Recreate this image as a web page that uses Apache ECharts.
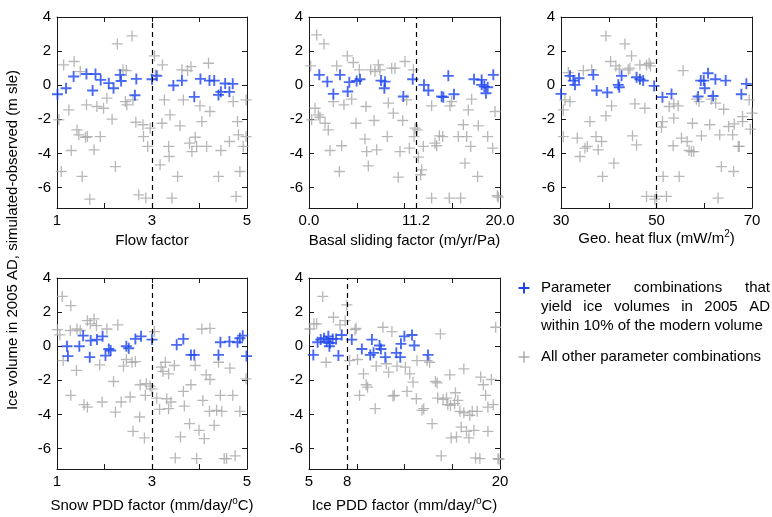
<!DOCTYPE html>
<html><head><meta charset="UTF-8">
<title>Ice volume sensitivity</title>
<script src="https://cdn.jsdelivr.net/npm/echarts@6/dist/echarts.min.js"></script>
<style>
  *{margin:0;padding:0;}
  html,body{width:772px;height:517px;background:#fff;}
  #chart{width:772px;height:517px;}
</style>
</head>
<body>
<div id="chart"></div>
<script>
// values: [parameter value, ice volume difference (m sle)]
var flowBlue = [[1.01,-0.53],[1.19,-0.18],[1.35,0.51],[1.62,0.66],[1.75,-0.31],[1.81,0.66],[1.92,0.31],[2.09,0.12],[2.19,-0.18],[2.33,0.61],[2.35,0.25],[2.64,-0.59],[2.67,0.37],[3.0,0.35],[3.1,0.55],[3.45,-0.02],[3.63,0.27],[3.89,-0.68],[4.02,0.37],[4.21,0.27],[4.31,0.27],[4.4,-0.57],[4.45,-0.39],[4.54,0.1],[4.63,-0.39],[4.7,0.08]];
var flowGray = [[1.04,-2.03],[1.09,-5.06],[1.14,1.19],[1.25,-1.45],[1.30,-3.83],[1.36,1.39],[1.42,-2.62],[1.46,-2.91],[1.49,0.8],[1.53,-5.35],[1.6,-3.05],[1.62,-1.15],[1.64,-3.01],[1.69,-6.68],[1.78,-3.79],[1.84,-1.25],[1.91,-3.01],[1.98,-1.35],[2.05,-0.76],[2.16,-1.99],[2.23,-4.77],[2.27,2.42],[2.39,0.9],[2.46,0.86],[2.44,-0.96],[2.47,-1.15],[2.58,2.89],[2.6,-0.86],[2.66,-2.17],[2.72,-6.43],[2.81,-2.32],[2.82,-3.01],[2.87,-6.62],[2.91,-3.59],[2.96,-2.52],[3.05,1.72],[3.07,0.61],[3.17,-4.67],[3.22,1.19],[3.21,-2.23],[3.26,-0.86],[3.35,-3.59],[3.38,-1.74],[3.36,-4.18],[3.42,-6.62],[3.54,-5.35],[3.59,-2.38],[3.63,0.9],[3.66,-0.86],[3.75,0.86],[3.79,-3.4],[3.82,1.09],[3.84,-3.89],[3.91,-3.05],[3.94,-3.59],[4.01,-1.21],[4.05,-2.13],[4.15,-3.59],[4.19,1.29],[4.22,-1.54],[4.4,-5.35],[4.45,-3.83],[4.63,-3.3],[4.71,-0.96],[4.77,-6.52],[4.8,-2.13],[4.82,-2.91],[4.85,-5.06],[4.92,-3.59],[4.98,-0.86],[4.98,-3.01]];

var basalBlue = [[1.08,0.61],[1.92,0.21],[2.55,-0.51],[3.25,0.61],[4.05,-0.37],[4.22,0.18],[4.99,0.25],[5.34,0.35],[7.54,0.27],[7.96,0.21],[7.89,-0.18],[9.88,-0.66],[10.86,0.35],[12.04,0.02],[12.5,-0.31],[13.89,-0.66],[14.07,-0.7],[14.59,0.55],[15.18,-0.53],[17.28,0.35],[18.08,0.31],[18.08,0.02],[18.36,-0.08],[18.53,-0.47],[18.71,-0.12],[19.3,0.61]];
var basalGray = [[0.17,1.13],[0.28,-2.03],[0.63,-1.35],[0.8,2.95],[0.98,-1.74],[1.15,-1.88],[1.57,2.42],[1.68,-2.23],[2.02,-2.62],[2.2,-3.83],[2.55,-0.96],[2.9,1.13],[3.18,-5.06],[3.42,-3.55],[3.66,-1.15],[4.01,1.72],[4.47,-0.82],[4.64,1.33],[4.92,-2.23],[5.27,0.9],[5.86,-3.16],[5.97,-1.25],[6.04,-3.89],[6.21,-4.73],[6.46,0.9],[6.81,-2.07],[6.91,0.8],[7.09,-3.79],[7.26,1.19],[7.43,0.9],[8.2,-3.01],[8.31,-1.05],[8.66,1.0],[8.83,-1.64],[9.0,1.0],[9.35,-5.39],[9.53,-3.89],[9.81,-2.07],[10.23,-0.86],[10.05,1.39],[10.51,-3.69],[10.93,0.9],[11.0,-3.01],[11.1,-2.52],[11.34,-2.62],[11.45,-4.22],[11.69,-5.25],[11.8,-4.96],[11.97,-3.59],[12.84,-6.62],[12.84,-1.21],[13.19,-3.4],[13.37,-3.55],[13.65,-2.97],[14.0,-3.01],[14.69,-6.62],[14.76,-1.21],[14.94,-0.96],[15.64,-3.01],[15.88,-6.62],[16.16,-2.32],[16.33,-4.57],[16.51,-3.01],[16.68,-1.45],[16.93,-3.59],[17.03,-0.82],[17.66,-5.35],[17.73,-2.38],[18.71,-3.01],[19.23,-3.69],[19.48,-1.54],[19.72,-6.48],[19.83,-6.56]];

var heatBlue = [[30.0,-0.51],[31.88,0.55],[32.58,0.27],[32.93,0.02],[33.76,0.41],[36.76,0.61],[37.46,-0.31],[39.69,-0.43],[41.99,0.02],[42.2,-0.12],[42.68,0.55],[45.82,0.47],[46.52,0.35],[47.21,0.27],[49.51,-0.04],[51.25,-0.7],[53.14,-0.51],[58.71,-0.66],[59.27,0.27],[59.9,0.27],[60.1,-0.18],[60.8,0.7],[61.85,-0.63],[62.33,0.35],[64.49,0.27],[67.77,-0.53],[68.82,0.08]];
var heatGray = [[30.49,-1.45],[30.84,-0.86],[30.49,-3.01],[31.53,0.74],[31.88,-0.96],[33.41,-3.1],[33.97,-4.18],[34.67,0.86],[35.02,-3.69],[35.51,-3.59],[36.06,-2.13],[36.41,0.9],[37.32,-3.01],[37.8,-3.79],[38.5,-3.3],[38.71,-5.35],[39.41,-1.8],[39.41,2.89],[40.38,1.39],[40.59,-1.21],[41.08,-4.57],[41.5,1.13],[42.2,0.94],[43.38,2.42],[44.08,0.9],[44.77,1.72],[44.43,1.0],[44.98,-2.97],[45.47,-1.09],[45.82,-3.5],[46.52,1.19],[47.56,-1.35],[47.91,1.19],[48.47,1.29],[48.75,1.13],[47.91,-6.52],[49.65,-6.68],[50.0,-6.52],[51.25,-2.13],[51.04,-2.46],[51.39,-5.35],[52.09,-6.52],[52.65,-1.25],[53.48,-3.55],[53.62,-1.09],[53.62,-1.93],[54.53,-1.21],[54.74,-5.35],[55.23,-3.1],[55.57,0.86],[56.41,-3.3],[56.83,-3.83],[57.32,-3.89],[57.53,-2.23],[57.8,-3.89],[58.36,-0.82],[58.92,-0.96],[59.41,-2.97],[61.15,-2.32],[61.5,-0.82],[62.4,-1.05],[62.89,-6.62],[63.24,-2.91],[64.08,-1.41],[63.59,-4.77],[65.1,-2.42],[65.94,-2.91],[66.29,-2.27],[66.15,-5.06],[67.12,-3.59],[67.33,-3.59],[68.02,-2.13],[68.02,-1.84],[69.41,-0.86],[69.65,-2.58],[70.0,-1.64]];

var snowBlue = [[1.21,0.0],[1.23,-0.58],[1.47,0.0],[1.55,0.62],[1.69,-0.64],[1.71,0.33],[1.84,0.39],[1.96,0.58],[2.02,-0.55],[2.09,-0.16],[2.13,-0.25],[2.46,0.0],[2.51,-0.12],[2.65,0.43],[2.77,0.58],[3.0,0.39],[3.52,0.08],[3.66,0.43],[3.82,-0.51],[3.89,-0.51],[4.4,-0.51],[4.44,0.23],[4.63,0.27],[4.8,0.23],[4.85,0.47],[4.91,0.62],[4.99,-0.58]];
var snowGray = [[1.01,0.97],[1.06,0.66],[1.11,2.92],[1.13,-0.84],[1.29,2.38],[1.28,0.92],[1.41,-1.42],[1.42,1.01],[1.29,-2.88],[1.49,0.92],[1.57,-3.43],[1.64,-3.57],[1.64,1.5],[1.7,1.31],[1.78,1.6],[1.83,1.21],[1.9,-1.09],[1.95,-3.27],[2.05,1.01],[2.19,-2.07],[2.23,-3.86],[2.28,1.25],[2.35,-3.27],[2.4,-1.17],[2.46,-0.78],[2.54,-2.98],[2.58,-0.94],[2.6,-4.99],[2.65,-0.9],[2.74,-4.15],[2.75,-2.26],[2.84,-5.38],[2.86,-2.88],[2.88,-2.2],[2.96,-2.34],[3.0,-2.5],[3.05,0.86],[3.1,-3.04],[3.16,-3.7],[3.19,-1.23],[3.23,-1.48],[3.28,-0.94],[3.31,-3.08],[3.35,-3.66],[3.35,-1.62],[3.4,-3.27],[3.47,-1.13],[3.49,-6.55],[3.6,-5.32],[3.66,-2.65],[3.68,-3.51],[3.79,-4.54],[3.82,-2.26],[3.91,-1.13],[3.94,-6.59],[3.99,-4.93],[4.05,1.01],[4.07,-3.18],[4.1,-5.42],[4.14,-1.68],[4.22,1.05],[4.22,-1.95],[4.21,-3.82],[4.31,-4.64],[4.36,-3.76],[4.4,-0.94],[4.44,-2.88],[4.47,-3.82],[4.52,-6.59],[4.57,-6.59],[4.64,-1.29],[4.7,-2.88],[4.75,-6.43],[4.85,-3.82],[4.98,-1.91]];

var iceBlue = [[5.34,-0.51],[5.68,0.23],[5.92,0.39],[6.18,0.47],[6.39,0.27],[6.52,0.58],[6.6,0.0],[6.65,0.19],[6.86,0.43],[7.13,0.43],[7.31,-0.55],[7.57,0.66],[8.36,0.39],[9.15,-0.16],[9.81,-0.51],[9.94,0.39],[10.07,-0.39],[10.54,0.04],[10.65,-0.16],[10.99,-0.64],[11.86,-0.39],[12.17,-0.64],[12.22,0.14],[12.49,0.58],[13.09,0.66],[13.27,0.04],[14.35,-0.51]];
var iceGray = [[5.08,1.01],[5.39,1.31],[5.6,1.31],[6.08,2.92],[6.34,-0.94],[6.92,1.7],[7.44,1.25],[7.84,1.5],[7.97,2.42],[8.18,-0.84],[8.62,0.97],[8.7,1.05],[8.81,-0.78],[8.97,-2.88],[9.28,-1.62],[9.49,-2.26],[9.6,-2.4],[10.2,-3.66],[10.28,-1.17],[10.81,1.11],[11.07,-1.03],[11.25,-1.52],[11.51,0.86],[11.59,-2.92],[11.7,-2.88],[11.91,-1.17],[12.57,-1.23],[12.7,-2.65],[12.91,-1.62],[13.17,-2.11],[13.43,-3.08],[13.48,-0.84],[13.88,-3.76],[14.01,-3.66],[14.27,-0.84],[14.48,-0.94],[14.67,-4.54],[14.93,-2.07],[15.06,-2.15],[15.11,-3.04],[15.32,0.72],[15.38,-6.43],[15.53,-3.12],[15.8,-3.04],[15.9,-3.43],[16.06,-1.68],[16.11,-3.47],[16.16,-5.38],[16.43,-3.37],[16.5,-2.73],[16.58,-5.32],[16.69,-3.18],[16.85,-3.82],[16.95,-4.74],[17.16,-1.33],[17.16,-3.9],[17.37,-4.99],[17.56,-5.38],[17.63,-4.05],[17.82,-3.82],[17.95,-4.93],[18.08,-6.55],[18.21,-3.82],[18.42,-6.59],[18.48,-1.81],[18.69,-2.26],[18.87,-2.88],[19.05,-4.99],[19.05,-3.57],[19.32,-1.95],[19.47,-3.43],[19.66,1.11],[19.84,-6.59],[19.92,-6.63]];

// axis ranges, labelled ticks and reference (default) values
var xRanges = [[1,5],[0,20],[30,70],[1,5],[5,20]];
var xLabels = [[1,3,5],[0,11.2,20],[30,50,70],[1,3,5],[5,8,20]];
var refValues = [3, 11.2, 50, 3, 8];
var yTicks = [-6,-4,-2,0,2,4];
var yMin = -7.2, yMax = 4;

var FONT = '"Liberation Sans", Arial, sans-serif';
var BLUE = '#1b44ee', GRAY = '#a6a6a6', AXIS = '#1a1a1a';
var plusThick = 'path://M-0.17,-1H0.17V-0.17H1V0.17H0.17V1H-0.17V0.17H-1V-0.17H-0.17Z';
var plusThin = 'path://M-0.12,-1H0.12V-0.12H1V0.12H0.12V1H-0.12V0.12H-1V-0.12H-0.12Z';

var names = [
  'Flow factor',
  'Basal sliding factor (m/yr/Pa)',
  'Geo. heat flux (mW/m{s|2}{n|)}',
  'Snow PDD factor (mm/day/{s|o}{n|C)}',
  'Ice PDD factor (mm/day/{s|o}{n|C)}'
];
var nameGaps = [23, 23, 19, 27, 27];
var grids = [
  {left: 57, top: 17, width: 190, height: 191},
  {left: 309, top: 17, width: 191, height: 191},
  {left: 561, top: 17, width: 191, height: 191},
  {left: 57, top: 278, width: 190, height: 192},
  {left: 309, top: 278, width: 191, height: 192}
];
var blues = [flowBlue, basalBlue, heatBlue, snowBlue, iceBlue];
var grays = [flowGray, basalGray, heatGray, snowGray, iceGray];

var xAxes = [], yAxes = [], series = [];
for (var i = 0; i < 5; i++) {
  var lo = xRanges[i][0], hi = xRanges[i][1], q = (hi - lo) / 4;
  var quarter = [lo + q, lo + 2 * q, lo + 3 * q];
  var fmt = (i == 1) ? function(v){ return Number(v).toFixed(1); } : function(v){ return String(v); };
  var baseX = {
    gridIndex: i, type: 'value', min: lo, max: hi,
    axisLine: {show: true, onZero: false, lineStyle: {color: AXIS, width: 1}},
    axisTick: {show: true, inside: true, length: 5, customValues: quarter, lineStyle: {color: AXIS}},
    splitLine: {show: false}
  };
  xAxes.push(Object.assign({}, baseX, {
    position: 'bottom',
    axisLabel: {customValues: xLabels[i], formatter: fmt, fontSize: 15, fontFamily: FONT, color: '#000', margin: 5},
    name: names[i], nameLocation: 'middle', nameGap: nameGaps[i],
    nameTextStyle: {fontSize: 15, fontFamily: FONT, color: '#000', lineHeight: 20,
      rich: {n: {fontSize: 15, fontFamily: FONT, color: '#000', lineHeight: 20},
             s: {fontSize: 10, fontFamily: FONT, color: '#000', lineHeight: 10, verticalAlign: 'top'}}}
  }));
  xAxes.push(Object.assign({}, baseX, {position: 'top', axisLabel: {show: false}}));
  var baseY = {
    gridIndex: i, type: 'value', min: yMin, max: yMax,
    axisLine: {show: true, onZero: false, lineStyle: {color: AXIS, width: 1}},
    axisTick: {show: true, inside: true, length: 5, customValues: yTicks, lineStyle: {color: AXIS}},
    splitLine: {show: false}
  };
  yAxes.push(Object.assign({}, baseY, {position: 'left',
    axisLabel: {customValues: yTicks, fontSize: 15, fontFamily: FONT, color: '#000', margin: 6}}));
  yAxes.push(Object.assign({}, baseY, {position: 'right', axisLabel: {show: false}}));

  series.push({
    type: 'scatter', xAxisIndex: 2 * i, yAxisIndex: 2 * i, data: grays[i],
    symbol: plusThin, symbolSize: 11, itemStyle: {color: GRAY}, z: 2,
    markLine: {silent: true, symbol: ['none', 'none'], label: {show: false},
      lineStyle: {color: '#000', type: [5, 4], width: 1.2}, data: [{xAxis: refValues[i]}]}
  });
  series.push({
    type: 'scatter', xAxisIndex: 2 * i, yAxisIndex: 2 * i, data: blues[i],
    symbol: plusThick, symbolSize: 11, itemStyle: {color: BLUE}, z: 3
  });
}

// justified legend text
var ctx = document.createElement('canvas').getContext('2d');
ctx.font = '15px ' + FONT;
function justify(words, x0, x1, y) {
  var w = words.map(function(t){ return ctx.measureText(t).width; });
  var total = w.reduce(function(a, b){ return a + b; }, 0);
  var gap = (x1 - x0 - total) / (words.length - 1);
  var out = [], x = x0;
  words.forEach(function(t, k){
    out.push({type: 'text', x: x, y: y, style: {text: t, fontSize: 15, fontFamily: FONT, fill: '#000', verticalAlign: 'middle'}});
    x += w[k] + gap;
  });
  return out;
}
function plusMark(cx, cy, color, lw) {
  return [
    {type: 'line', shape: {x1: cx - 5.5, y1: cy, x2: cx + 5.5, y2: cy}, style: {stroke: color, lineWidth: lw}},
    {type: 'line', shape: {x1: cx, y1: cy - 5.5, x2: cx, y2: cy + 5.5}, style: {stroke: color, lineWidth: lw}}
  ];
}
var graphics = [].concat(
  plusMark(524, 288, BLUE, 2), plusMark(524, 357, GRAY, 1.4),
  justify(['Parameter', 'combinations', 'that'], 541, 770, 288),
  justify(['yield', 'ice', 'volumes', 'in', '2005', 'AD'], 541, 770, 307),
  [{type: 'text', x: 541, y: 326, style: {text: 'within 10% of the modern volume', fontSize: 15, fontFamily: FONT, fill: '#000', verticalAlign: 'middle'}},
   {type: 'text', x: 541, y: 357, style: {text: 'All other parameter combinations', fontSize: 15, fontFamily: FONT, fill: '#000', verticalAlign: 'middle'}},
   {type: 'text', x: 13, y: 240, rotation: Math.PI / 2,
    style: {text: 'Ice volume in 2005 AD, simulated-observed (m sle)', fontSize: 15, fontFamily: FONT, fill: '#000', align: 'center', verticalAlign: 'middle'}}]
);

var chart = echarts.init(document.getElementById('chart'), null, {renderer: 'canvas'});
chart.setOption({
  animation: false,
  backgroundColor: '#fff',
  grid: grids,
  xAxis: xAxes,
  yAxis: yAxes,
  series: series,
  graphic: graphics
});
</script>
</body></html>
